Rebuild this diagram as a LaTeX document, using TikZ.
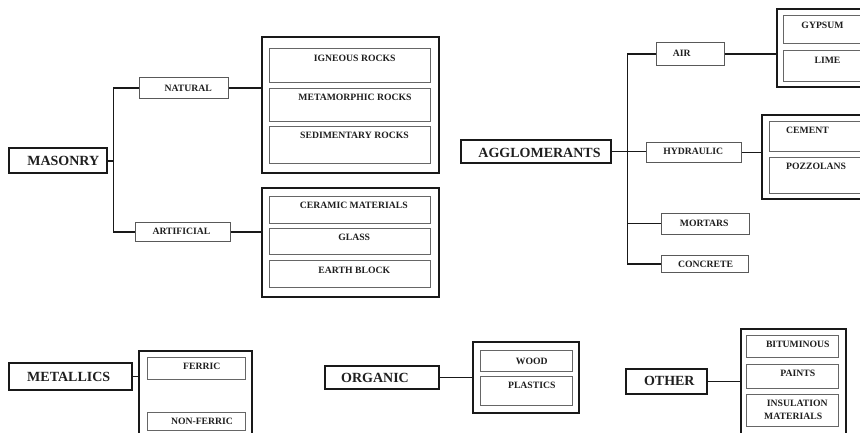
\documentclass[tikz,border=0pt]{standalone}
\usepackage{fontspec}
\setmainfont{Liberation Serif}
\usetikzlibrary{fit}
\begin{document}
\begin{tikzpicture}[x=1pt,y=-1pt,
  frame/.style={draw=black!90, line width=1.7pt, inner sep=0pt},
  grp/.style={draw=black!90, line width=1.7pt, inner sep=0pt},
  tag/.style={draw=black!65, line width=1pt, inner sep=0pt},
  cell/.style={draw=black!60, line width=1pt, inner sep=0pt},
  wire/.style={draw=black!90, line width=1.5pt},
  big/.style={font=\fontsize{14}{16}\selectfont\bfseries, text=black!88, inner sep=0pt},
  small/.style={font=\fontsize{9.7}{13.7}\selectfont\bfseries, text=black!88, inner sep=0pt}]
\useasboundingbox[fill=white] (0,0) rectangle (860,432);
\clip (0,0) rectangle (860,432);

% ---------- Masonry ----------
\node[frame, fit={(9.3,148.3) (107,173.3)}] (mas) {};
\node[big] (mast) at (63.3,161) {MASONRY};
\node[tag, fit={(139,77.7) (228.7,98.3)}] (nat) {};
\node[small] (natt) at (188.2,88) {NATURAL};
\node[tag, fit={(135,222.3) (230,241.7)}] (art) {};
\node[small] (artt) at (181.5,231.7) {ARTIFICIAL};

\node[grp, fit={(261.7,37.3) (439,173.3)}] (natgrp) {};
\node[cell, fit={(269.3,48.3) (430.3,82.3)}] (ign) {};
\node[small] (ignt) at (354.7,58.8) {IGNEOUS ROCKS};
\node[cell, fit={(269.3,88.3) (430.3,121)}] (mtm) {};
\node[small] (mtmt) at (355,97.5) {METAMORPHIC ROCKS};
\node[cell, fit={(269.3,126) (430.3,163.3)}] (sed) {};
\node[small] (sedt) at (354.5,135.8) {SEDIMENTARY ROCKS};

\node[grp, fit={(261.7,188.3) (439.3,297.3)}] (artgrp) {};
\node[cell, fit={(269.3,196) (430,223.3)}] (cer) {};
\node[small] (cert) at (353.8,205.8) {CERAMIC MATERIALS};
\node[cell, fit={(269.3,228.3) (430,254.3)}] (gla) {};
\node[small] (glat) at (354.2,237.7) {GLASS};
\node[cell, fit={(269.3,260) (430,287.3)}] (ear) {};
\node[small] (eart) at (354.3,270) {EARTH BLOCK};

\coordinate (mbus) at (113.3,160);
\draw[wire] (mas.east) -- (mas.east -| mbus);
\draw[wire] (nat.west) -| (mbus) |- (art.west);
\draw[wire] (nat.east) -- (nat.east -| natgrp.west);
\draw[wire] (art.east) -- (art.east -| artgrp.west);

% ---------- Agglomerants ----------
\node[frame, fit={(460.7,140) (610.7,162.7)}] (ag) {};
\node[big] (agt) at (539.5,153.3) {AGGLOMERANTS};
\node[tag, fit={(656,42.7) (724,65)}] (air) {};
\node[small] (airt) at (681.8,53) {AIR};
\node[tag, fit={(646.7,142.3) (741.7,162.7)}] (hyd) {};
\node[small] (hydt) at (693.3,151.3) {HYDRAULIC};
\node[tag, fit={(661.7,213.3) (749.3,234)}] (mor) {};
\node[small] (mort) at (704.2,223) {MORTARS};
\node[tag, fit={(661.7,255) (748.3,272.7)}] (con) {};
\node[small] (cont) at (705.5,264.7) {CONCRETE};

\node[grp, fit={(777.3,9.3) (880,87.3)}] (airgrp) {};
\node[cell, fit={(783.3,15) (870,43.3)}] (gyp) {};
\node[small] (gypt) at (822.5,25.5) {GYPSUM};
\node[cell, fit={(783.3,50) (870,81.7)}] (lim) {};
\node[small] (limt) at (827.5,60.3) {LIME};

\node[grp, fit={(762,115) (880,199.3)}] (hydgrp) {};
\node[cell, fit={(769,121.7) (870,151.7)}] (cem) {};
\node[small] (cemt) at (807.5,130.3) {CEMENT};
\node[cell, fit={(769,157.3) (870,193.3)}] (poz) {};
\node[small] (pozt) at (816,166.3) {POZZOLANS};

\coordinate (abus) at (627.3,151.5);
\draw[wire] (ag.east) -- (ag.east -| hyd.west);
\draw[wire] (air.west) -| (abus) |- (con.west);
\draw[wire] (abus) |- (mor.west);
\draw[wire] (air.east) -- (air.east -| airgrp.west);
\draw[wire] (hyd.east) -- (hyd.east -| hydgrp.west);

% ---------- Metallics ----------
\node[frame, fit={(9.3,363.3) (132,390)}] (metl) {};
\node[big] (metlt) at (68.7,376.7) {METALLICS};
\node[grp, fit={(139.3,350.7) (252.3,450)}] (metgrp) {};
\node[cell, fit={(147.7,357.3) (245,379.3)}] (fer) {};
\node[small] (fert) at (201.7,366.7) {FERRIC};
\node[cell, fit={(147.7,412.3) (245,430)}] (nfe) {};
\node[small] (nfet) at (202,421.8) {NON-FERRIC};
\draw[wire] (metl.east) -- (metl.east -| metgrp.west);

% ---------- Organic ----------
\node[frame, fit={(325,365.7) (439,389.3)}] (org) {};
\node[big] (orgt) at (375,378.3) {ORGANIC};
\node[grp, fit={(472.7,342.3) (579.3,412.7)}] (orggrp) {};
\node[cell, fit={(480.7,350.7) (572.7,371)}] (wood) {};
\node[small] (woodt) at (531.7,361.2) {WOOD};
\node[cell, fit={(480.7,376) (572.7,405)}] (pla) {};
\node[small] (plat) at (531.8,385.7) {PLASTICS};
\draw[wire] (org.east) -- (org.east -| orggrp.west);

% ---------- Other ----------
\node[frame, fit={(626,369) (707.3,394.3)}] (oth) {};
\node[big] (otht) at (669.3,381) {OTHER};
\node[grp, fit={(740.7,329.3) (846,450)}] (othgrp) {};
\node[cell, fit={(746.7,335) (838.3,357.3)}] (bit) {};
\node[small] (bitt) at (797.8,344.5) {BITUMINOUS};
\node[cell, fit={(746.7,364) (838.3,388.3)}] (pai) {};
\node[small] (pait) at (797.8,373) {PAINTS};
\node[cell, fit={(746.7,394) (838.3,426.7)}] (ins) {};
\node[small, anchor=west, align=left] (inst) at (764,409.8) {\hspace*{2.7pt}INSULATION\\MATERIALS};
\draw[wire] (oth.east) -- (oth.east -| othgrp.west);
\end{tikzpicture}
\end{document}
